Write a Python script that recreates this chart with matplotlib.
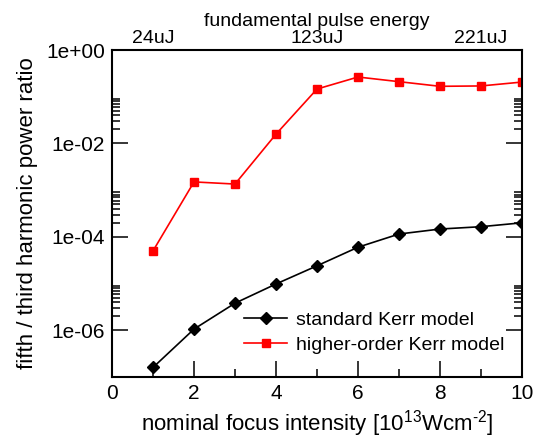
import numpy as np
import matplotlib
matplotlib.use("Agg")
import matplotlib.pyplot as plt
from matplotlib.ticker import FixedLocator, NullFormatter

plt.rcParams['font.family'] = ['Liberation Sans', 'DejaVu Sans']
plt.rcParams['mathtext.fontset'] = 'custom'
plt.rcParams['mathtext.rm'] = 'Liberation Sans'
plt.rcParams['mathtext.it'] = 'Liberation Sans:italic'

# data
intensity = [1, 2, 3, 4, 5, 6, 7, 8, 9, 10]
standard_kerr = [1.6e-7, 1.06e-6, 3.8e-6, 9.8e-6, 2.4e-5, 6.0e-5, 1.15e-4, 1.47e-4, 1.65e-4, 2.0e-4]
higher_kerr = [5.0e-5, 1.5e-3, 1.35e-3, 1.58e-2, 0.146, 0.264, 0.21, 0.167, 0.17, 0.206]
energy_pos = [1, 5, 9]
energy_labels = ['24uJ', '123uJ', '221uJ']

fig = plt.figure(figsize=(5.35, 4.41), dpi=100)
ax = fig.add_axes([112/535, 1-377/441, 410/535, 327/441])

ax.plot(intensity, standard_kerr, color='black', marker='D', markersize=6.5,
        linewidth=1.2, label='standard Kerr model')
ax.plot(intensity, higher_kerr, color='red', marker='s', markersize=5.5,
        linewidth=1.2, label='higher-order Kerr model')

ax.set_yscale('log')
ax.set_xlim(0, 10)
ax.set_ylim(1e-7, 1e0)

# y ticks: labelled every two decades, minor ticks only in the decade above each label
ax.yaxis.set_major_locator(FixedLocator([1e-6, 1e-4, 1e-2, 1e0]))
ax.set_yticklabels(['1e-06', '1e-04', '1e-02', '1e+00'])
minor = [m * 10.0**k for k in (-6, -4, -2) for m in range(2, 10)]
ax.yaxis.set_minor_locator(FixedLocator(minor))
ax.yaxis.set_minor_formatter(NullFormatter())

ax.set_xticks([0, 2, 4, 6, 8, 10])
ax.xaxis.set_minor_locator(FixedLocator([1, 3, 5, 7, 9]))

ax.tick_params(which='both', direction='in', top=True, right=True, width=1.1)
ax.tick_params(which='major', length=11.5, labelsize=15, pad=5)
ax.tick_params(which='minor', length=5.5)
for s in ax.spines.values():
    s.set_linewidth(1.5)

ax.set_xlabel('nominal focus intensity [10$^{13}$Wcm$^{\\text{-}2}$]', fontsize=16, labelpad=4)
ax.set_ylabel('fifth / third harmonic power ratio', fontsize=16, labelpad=6)

top = ax.twiny()
top.set_xlim(ax.get_xlim())
top.set_xticks(energy_pos)
top.set_xticklabels(energy_labels)
top.tick_params(length=0, labelsize=14, pad=2)
top.set_xlabel('fundamental pulse energy', fontsize=14, labelpad=3)
for s in top.spines.values():
    s.set_visible(False)

ax.legend(loc='lower right', bbox_to_anchor=(0.99, 0.03), frameon=False,
          fontsize=14, handlelength=2.2, handletextpad=0.45, labelspacing=0.35,
          borderpad=0.2)

fig.savefig('out.png', dpi=100)
